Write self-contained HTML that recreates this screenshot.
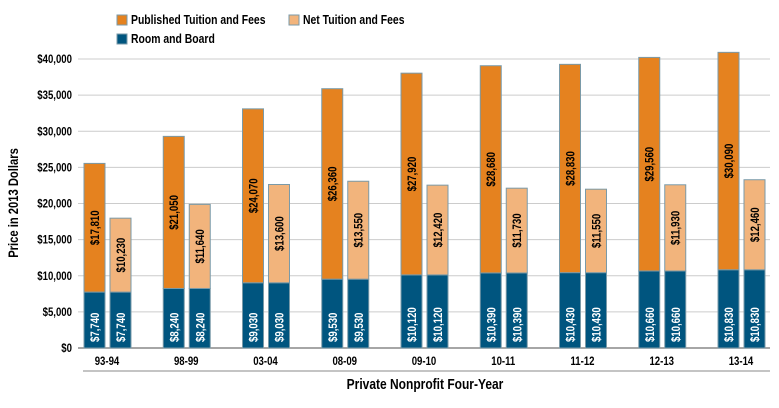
<!DOCTYPE html>
<html><head><meta charset="utf-8"><style>
body{margin:0;background:#fff;}
svg{display:block;font-family:"Liberation Sans Narrow","Liberation Sans",sans-serif;}
</style></head><body>
<svg id="chart" width="779" height="408">
<g id="legend">
 <g><rect x="117" y="15" width="10" height="10" fill="#E5821F" stroke="#7A9AA8"/><text x="131" y="24" font-size="13" font-weight="bold">Published Tuition and Fees</text></g>
 <g><rect x="289" y="15" width="10" height="10" fill="#F2B47C" stroke="#7A9AA8"/><text x="303" y="24" font-size="13" font-weight="bold">Net Tuition and Fees</text></g>
 <g><rect x="117" y="34" width="10" height="10" fill="#00557F" stroke="#7A9AA8"/><text x="131" y="43" font-size="13" font-weight="bold">Room and Board</text></g>
</g>
<g id="grid"></g><g id="bars"></g>
<text x="18" y="203" font-size="14" font-weight="bold" text-anchor="middle" transform="rotate(-90 18 203)">Price in 2013 Dollars</text>
<line x1="83" y1="371" x2="770" y2="371" stroke="#888"/>
<text x="425" y="389" font-size="15" font-weight="bold" text-anchor="middle">Private Nonprofit Four-Year</text>
</svg>
<script>
const categories=["93-94","98-99","03-04","08-09","09-10","10-11","11-12","12-13","13-14"];
const roomBoard=[7740,8240,9030,9530,10120,10390,10430,10660,10830];
const published=[17810,21050,24070,26360,27920,28680,28830,29560,30090];
const netTuition=[10230,11640,13600,13550,12420,11730,11550,11930,12460];
const yTicks=[0,5000,10000,15000,20000,25000,30000,35000,40000];
const NS="http://www.w3.org/2000/svg";
const y=v=>348-v*289/40000;
const xc=i=>107+i*79.25;
const fmt=v=>"$"+v.toLocaleString("en-US");
function mk(tag,attrs,parent,txt){const e=document.createElementNS(NS,tag);for(const k in attrs)e.setAttribute(k,attrs[k]);if(txt!=null)e.textContent=txt;parent.appendChild(e);return e;}
const grid=document.getElementById("grid"),bars=document.getElementById("bars");
yTicks.forEach(t=>{
 const l=mk("line",{x1:78,x2:770,y1:y(t),y2:y(t),stroke:t===0?"#888":"#ccc","stroke-width":t===0?1.5:1},grid);
 
 
 const tx=mk("text",{x:72,y:y(t)+4,"font-size":12,"font-weight":"bold","text-anchor":"end"},grid,fmt(t));
 
 
});
function label(x,yy,txt,color,anchor){
 const t=mk("text",{x:x,y:yy,"font-size":12,"font-weight":"bold",fill:color,"text-anchor":anchor,transform:`rotate(-90 ${x} ${yy})`},bars,txt);
 
 
}
categories.forEach((c,i)=>{
 const cx=xc(i);
 [[cx-23,published[i],"#E5821F"],[cx+3,netTuition[i],"#F2B47C"]].forEach(([bx,top,col],j)=>{
  const r=mk("rect",{x:bx,y:y(roomBoard[i]),width:21,height:y(0)-y(roomBoard[i]),fill:"#00557F",stroke:"#7A9AA8"},bars);
  
  
  const r2=mk("rect",{x:bx,y:y(roomBoard[i]+top),width:21,height:y(roomBoard[i])-y(roomBoard[i]+top),fill:col,stroke:"#7A9AA8"},bars);
  
  
  label(bx+15,y(0)-6,fmt(roomBoard[i]),"#fff","start");
  label(bx+15,(y(roomBoard[i])+y(roomBoard[i]+top))/2,fmt(top),"#000","middle");
 });
 const ct=mk("text",{x:cx,y:365,"font-size":12,"font-weight":"bold","text-anchor":"middle"},bars,c);
 
 
});
// condense text to mimic narrow font
document.querySelectorAll("#chart text").forEach(t=>{
 const w=t.getComputedTextLength();
 if(w>0){t.setAttribute("textLength",(w*0.8).toFixed(1));t.setAttribute("lengthAdjust","spacingAndGlyphs");}
});
</script>
</body></html>
